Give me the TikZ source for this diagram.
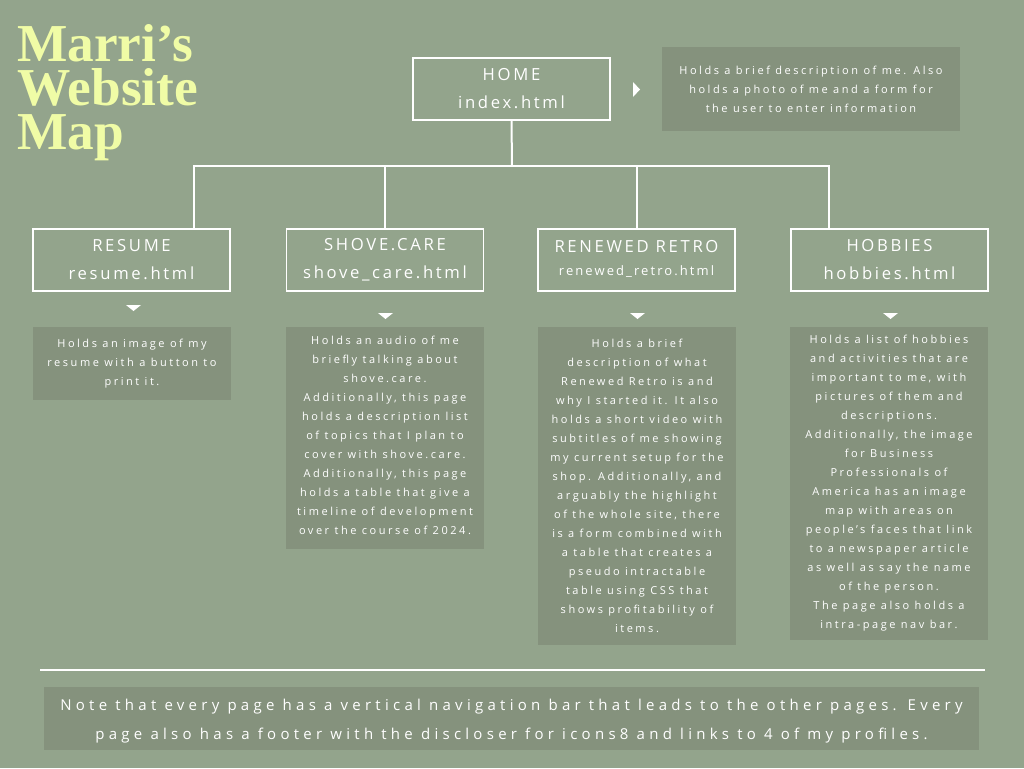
\documentclass[tikz,border=0pt]{standalone}
\usepackage{fontspec}
\setmainfont{Open Sans}
\newfontfamily\titlefont{Liberation Serif}
\newfontfamily\bodyfont[LetterSpace=23]{Open Sans}
\newfontfamily\notefont[LetterSpace=28.5]{Open Sans}
\newfontfamily\headfont[LetterSpace=16]{Open Sans}
\definecolor{bg}{RGB}{147,164,140}
\definecolor{descbg}{RGB}{133,146,125}
\definecolor{titlecol}{RGB}{240,252,166}
\begin{document}
\begin{tikzpicture}[x=0.75pt,y=-0.75pt,
  pagebox/.style={draw=white, line width=1pt, minimum width=147.75pt, minimum height=46.5pt,
    inner sep=0pt, align=center, text=white, font=\headfont\fontsize{12.5}{21}\selectfont},
  descbox/.style={fill=descbg, inner sep=0pt, align=center, text=white,
    font=\bodyfont\fontsize{8.25}{14.25}\selectfont},
  conn/.style={draw=white, line width=1.5pt},
  tri/.style={fill=white}]
\fill[bg] (0,0) rectangle (1024,768);
\useasboundingbox (0,0) rectangle (1024,768);

% title
\node[anchor=north west, inner sep=0pt, align=left, text=titlecol,
  font=\titlefont\bfseries\fontsize{40}{33}\selectfont] (title) at (17,24.5)
  {Marri’s\\Website\\Map};

% page boxes
\node[pagebox] (home) at (511.5,89) {HOME\\index.html\rule[-1pt]{0pt}{0pt}};
\node[pagebox] (resume) at (131.5,260) {RESUME\\resume.html\rule[-1pt]{0pt}{0pt}};
\node[pagebox] (shove) at (385,260) {SHOVE.CARE\\shove\_care.html};
\node[pagebox] (renewed) at (636.5,260) {RENEWED RETRO\\[-3.75pt]{\fontsize{9.75}{12}\selectfont renewed\_retro.html\rule[-3pt]{0pt}{0pt}}};
\node[pagebox] (hobbies) at (889.5,260) {HOBBIES\\hobbies.html};

% connectors
\coordinate (bus) at (512,166);
\draw[conn] (home.south) -- (bus);
\draw[conn] ([xshift=46.875pt]resume.north) |- (bus) -| ([xshift=-45.375pt]hobbies.north);
\draw[conn] (shove.north) -- (shove.north |- bus);
\draw[conn] (renewed.north) -- (renewed.north |- bus);

% triangles
\fill[tri] (633,82) -- (633,97) -- (640,89.5) -- cycle;
\fill[tri] (126,305) -- (141,305) -- (133.5,311) -- cycle;
\fill[tri] (378,313) -- (393,313) -- (385.5,319) -- cycle;
\fill[tri] (630,313) -- (645,313) -- (637.5,319) -- cycle;
\fill[tri] (883,313) -- (898,313) -- (890.5,319) -- cycle;

% descriptions
\node[descbox, minimum width=223.5pt, minimum height=63pt] (homedesc) at (811,89)
  {Holds a brief description of me. Also\\holds a photo of me and a form for\\the user to enter information};
\node[descbox, minimum width=148.5pt, minimum height=54.75pt] (resumedesc) at (132,363.5)
  {Holds an image of my\\resume with a button to\\print it.\rule[-1.5pt]{0pt}{0pt}};
\node[descbox, minimum width=148.5pt, minimum height=166.5pt] (shovedesc) at (385,438)
  {Holds an audio of me\\briefly talking about\\shove.care.\\Additionally, this page\\holds a description list\\of topics that I plan to\\cover with shove.care.\\Additionally, this page\\holds a table that give a\\timeline of development\\over the course of 2024.\rule[-4.5pt]{0pt}{0pt}};
\node[descbox, minimum width=148.5pt, minimum height=238.5pt] (renewdesc) at (637,486)
  {Holds a brief\\description of what\\Renewed Retro is and\\why I started it. It also\\holds a short video with\\subtitles of me showing\\my current setup for the\\shop. Additionally, and\\arguably the highlight\\of the whole site, there\\is a form combined with\\a table that creates a\\pseudo intractable\\table using CSS that\\shows profitability of\\items.};
\node[descbox, minimum width=148.5pt, minimum height=234.75pt] (hobbydesc) at (889,483.5)
  {Holds a list of hobbies\\and activities that are\\important to me, with\\pictures of them and\\descriptions.\\Additionally, the image\\for Business\\Professionals of\\America has an image\\map with areas on\\people’s faces that link\\to a newspaper article\\as well as say the name\\of the person.\\The page also holds a\\intra-page nav bar.};

% rule and note
\draw[white, line width=1.5pt] (40,670) -- (985,670);
\node[descbox, minimum width=701.25pt, minimum height=47.25pt,
  font=\notefont\fontsize{11.25}{21.75}\selectfont] (note) at (511.5,718.5)
  {\rule{0pt}{13pt}Note that every page has a vertical navigation bar that leads to the other pages. Every\\page also has a footer with the discloser for icons8 and links to 4 of my profiles.};
\end{tikzpicture}
\end{document}
